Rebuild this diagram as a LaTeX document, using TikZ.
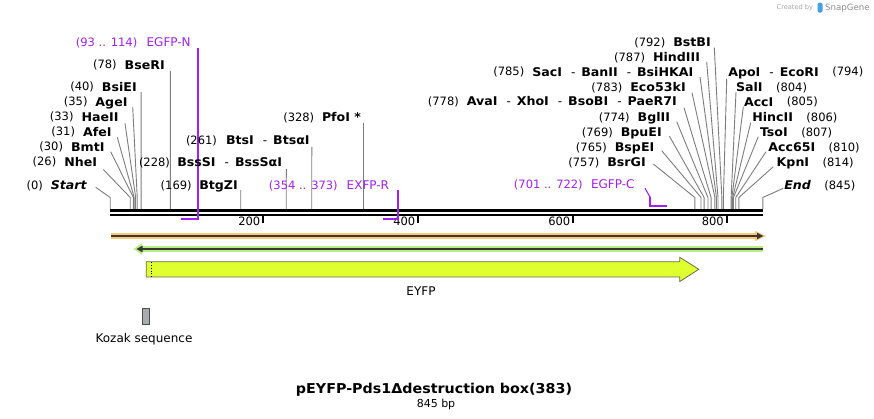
\documentclass[tikz,border=0pt]{standalone}
\usepackage{fontspec}
\setmainfont{DejaVu Sans}[BoldFeatures={FakeStretch=1.05},BoldItalicFeatures={FakeStretch=1.05}]
\usetikzlibrary{arrows.meta,positioning}
\definecolor{prm}{RGB}{160,32,240}
\definecolor{cutg}{RGB}{125,125,125}
\definecolor{orgL}{RGB}{252,200,118}
\definecolor{grnL}{RGB}{182,240,128}
\definecolor{core}{RGB}{55,55,55}
\definecolor{yfp}{RGB}{224,255,46}
\definecolor{yfpb}{RGB}{105,105,85}
\definecolor{koz}{RGB}{168,171,178}
\definecolor{sgblue}{RGB}{70,160,225}
\newcommand{\dsh}{\hspace{9pt}{\mdseries-}\hspace{6pt}}
\begin{document}
\begin{tikzpicture}[x=1pt,y=-1pt,
  base/.style={inner sep=0pt,outer sep=0pt,text height=8.7pt,text depth=0pt},
  txt/.style={base,font=\fontsize{12}{14}\selectfont},
  num/.style={base,font=\fontsize{11.5}{14}\selectfont,text height=8.4pt},
  nm/.style={base,font=\fontsize{12}{14}\selectfont\bfseries},
  nmi/.style={base,font=\fontsize{12}{14}\selectfont\bfseries\itshape},
  pnum/.style={num,text=prm},
  pnm/.style={txt,text=prm},
  tl/.style={base,font=\fontsize{11.5}{13}\selectfont,text height=8.4pt},
  cut/.style={draw=cutg,line width=0.9pt},
  prim/.style={draw=prm,line width=2pt},
  primthin/.style={draw=prm,line width=1.1pt},
  tick/.style={draw=black,line width=1.8pt},
  lnum/.style={num,left=8pt of #1},
  rnum/.style={num,right=13.5pt of #1}]
\useasboundingbox (0,0) rectangle (874,419);
\fill[white] (0,0) rectangle (874,419);

% watermark
\node[base,font=\fontsize{6.6}{8}\selectfont,text=black!35,anchor=west,text height=4.8pt] (wm1) at (776.7,7.3) {Created by};
\fill[sgblue,rounded corners=1.5pt] (817.5,2.7) rectangle (822.5,12.7);
\node[base,font=\fontsize{8.6}{10}\selectfont,text=black!45,anchor=west,text height=6.3pt] (wm2) at (825.2,7.3) {SnapGene};

% cut-site connectors
\foreach \n/\sx/\sy/\p in {
  start/95.7/187.3/0, nhe/103.3/169.5/26, bmt/110.7/151.7/30, afe/117.3/137.3/31,
  hae/125/123.3/33, age/132.7/107/35, bsi/141.1/92/40, bse/170.4/71/78,
  btg/240.7/190/169, bss/286.3/169/228, bts/311.8/147/261, pfo/363.5/123/328,
  bsr/653.3/164/757, bsp/661.7/150.7/765, bpu/669.3/136/769, bgl/676.7/121.7/774,
  ava/684/107.7/778, ecof/692/92.7/783, sac/700/77/785, hind/706.7/62/787,
  bstb/714.3/47.7/792, apo/726.7/79/794, sal/736/92/804, acc/743.3/106.7/805,
  hinc/750.7/122.7/806, tso/758.3/136.7/807, accs/766/151.7/810, kpn/773.3/166.7/814,
  endc/783.3/188.3/845}{
  \coordinate (\n-s) at (\sx,\sy);
  \coordinate (\n-k) at ({110.2+0.7723*\p},197.5);
  \coordinate (\n-b) at ({110.2+0.7723*\p},208.9);
  \draw[cut] (\n-s) -- (\n-k) -- (\n-b);
}

% sequence line
\coordinate (sq0) at (110.2,210.5);
\coordinate (sq1) at (763.3,210.5);
\coordinate (sr0) at (110.2,215);
\coordinate (sr1) at (763.3,215);
\draw[line width=2.7pt] (sq0) -- (sq1);
\draw[line width=2.3pt] (sr0) -- (sr1);

% ticks
\foreach \t/\x in {200/263.3,400/418.3,600/573.3,800/726.7}{
  \coordinate (t\t-a) at (\x,216.3);
  \coordinate (t\t-b) at (\x,223.3);
  \draw[tick] (t\t-a) -- (t\t-b);
  \node[tl,anchor=east] (tl\t) at (\x-3,221.7) {\t};
}

% primers
\coordinate (pn-t) at (198.3,48);
\coordinate (pn-c) at (198.3,219.3);
\coordinate (pn-e) at (181,219.3);
\draw[prim] (pn-t) -- (pn-c) -- (pn-e);
\coordinate (pr-t) at (398.3,190);
\coordinate (pr-c) at (398.3,219.3);
\coordinate (pr-e) at (383.3,219.3);
\draw[prim] (pr-t) -- (pr-c) -- (pr-e);
\coordinate (pc-s) at (645,188.3);
\coordinate (pc-k) at (650.3,197.5);
\coordinate (pc-c) at (650.3,205.8);
\coordinate (pc-e) at (666.7,205.8);
\draw[primthin] (pc-s) -- (pc-k);
\draw[prim] (pc-k) -- (pc-c) -- (pc-e);

% left cluster labels
\node[nmi,anchor=east] (l-start) at (86.7,185) {Start};
\node[lnum=l-start] (n-start) {(0)};
\node[nm,anchor=east] (l-nhe) at (97,161.7) {NheI};
\node[lnum=l-nhe] (n-nhe) {(26)};
\node[nm,anchor=east] (l-bmt) at (104.5,146.7) {BmtI};
\node[lnum=l-bmt] (n-bmt) {(30)};
\node[nm,anchor=east] (l-afe) at (111.5,131.7) {AfeI};
\node[lnum=l-afe] (n-afe) {(31)};
\node[nm,anchor=east] (l-hae) at (118.5,116.7) {HaeII};
\node[lnum=l-hae] (n-hae) {(33)};
\node[nm,anchor=east] (l-age) at (127.5,101.7) {AgeI};
\node[lnum=l-age] (n-age) {(35)};
\node[nm,anchor=east] (l-bsi) at (136.7,86.7) {BsiEI};
\node[lnum=l-bsi] (n-bsi) {(40)};
\node[nm,anchor=east] (l-bse) at (164.7,64.7) {BseRI};
\node[lnum=l-bse] (n-bse) {(78)};
\node[pnum,anchor=east] (n-pn) at (137.3,42.3) {(93 .. 114)};
\node[pnm,anchor=east] (l-pn) at (190.7,42.3) {EGFP-N};

% middle labels
\node[num,anchor=west] (n-btg) at (160.7,185) {(169)};
\node[nm,anchor=west] (l-btg) at (199.3,185) {BtgZI};
\node[num,anchor=west] (n-bss) at (139,162.3) {(228)};
\node[nm,anchor=west] (l-bss) at (177.3,162.3) {BssSI\dsh BssSαI};
\node[num,anchor=west] (n-bts) at (186,140) {(261)};
\node[nm,anchor=west] (l-bts) at (226,140) {BtsI\dsh BtsαI};
\node[num,anchor=west] (n-pfo) at (283.3,117.3) {(328)};
\node[nm,anchor=west] (l-pfo) at (322,117.3) {PfoI *};
\node[pnum,anchor=east] (n-pr) at (337.7,185) {(354 .. 373)};
\node[pnm,anchor=west] (l-pr) at (346.7,185) {EXFP-R};
\node[pnum,anchor=east] (n-pc) at (582.7,184.3) {(701 .. 722)};
\node[pnm,anchor=west] (l-pc) at (591,184.3) {EGFP-C};

% right cluster labels (left of lines)
\node[nm,anchor=east] (l-bstb) at (710.7,42.3) {BstBI};
\node[lnum=l-bstb] (n-bstb) {(792)};
\node[nm,anchor=east] (l-hind) at (700,57) {HindIII};
\node[lnum=l-hind] (n-hind) {(787)};
\node[nm,anchor=east] (l-sac) at (693.3,71.7) {SacI\dsh BanII\dsh BsiHKAI};
\node[lnum=l-sac] (n-sac) {(785)};
\node[nm,anchor=east] (l-ecof) at (685.7,87) {Eco53kI};
\node[lnum=l-ecof] (n-ecof) {(783)};
\node[nm,anchor=east] (l-ava) at (676.7,101.3) {AvaI\dsh XhoI\dsh BsoBI\dsh PaeR7I};
\node[lnum=l-ava] (n-ava) {(778)};
\node[nm,anchor=east] (l-bgl) at (670,117) {BglII};
\node[lnum=l-bgl] (n-bgl) {(774)};
\node[nm,anchor=east] (l-bpu) at (661.7,132) {BpuEI};
\node[lnum=l-bpu] (n-bpu) {(769)};
\node[nm,anchor=east] (l-bsp) at (654.3,147) {BspEI};
\node[lnum=l-bsp] (n-bsp) {(765)};
\node[nm,anchor=east] (l-bsr) at (645.7,162.3) {BsrGI};
\node[lnum=l-bsr] (n-bsr) {(757)};

% right side labels
\node[nm,anchor=west] (l-apo) at (728.3,71.7) {ApoI\dsh EcoRI};
\node[rnum=l-apo] (n-apo) {(794)};
\node[nm,anchor=west] (l-sal) at (736,87) {SalI};
\node[rnum=l-sal] (n-sal) {(804)};
\node[nm,anchor=west] (l-acc) at (744,101.7) {AccI};
\node[rnum=l-acc] (n-acc) {(805)};
\node[nm,anchor=west] (l-hinc) at (752.3,117) {HincII};
\node[rnum=l-hinc] (n-hinc) {(806)};
\node[nm,anchor=west] (l-tso) at (760,132) {TsoI};
\node[rnum=l-tso] (n-tso) {(807)};
\node[nm,anchor=west] (l-accs) at (768.3,147) {Acc65I};
\node[rnum=l-accs] (n-accs) {(810)};
\node[nm,anchor=west] (l-kpn) at (776.7,162) {KpnI};
\node[rnum=l-kpn] (n-kpn) {(814)};
\node[nmi,anchor=west] (l-end) at (784.3,185) {End};
\node[rnum=l-end] (n-end) {(845)};

% orange feature
\fill[orgL] (111,233.3) rectangle (757,238.7);
\fill[orgL] (755,230.8) -- (765.8,236) -- (755,241.2) -- cycle;
\draw[line width=2pt,draw=core] (111,236) -- (758,236);
\fill[core] (757,232.7) -- (763.3,236) -- (757,239.3) -- cycle;

% green feature
\fill[grnL] (138,246.2) rectangle (763.3,251.8);
\fill[grnL] (142,243.3) -- (133.5,249) -- (142,254.7) -- cycle;
\draw[line width=2.2pt,draw=core] (141,249) -- (763.3,249);
\fill[core] (142.5,245.6) -- (136.5,249) -- (142.5,252.4) -- cycle;

% EYFP
\filldraw[fill=yfp,draw=yfpb,line width=0.8pt]
  (146.2,261.7) -- (679.8,261.7) -- (679.8,257.3) -- (698.8,269.3)
  -- (679.8,281.5) -- (679.8,276.9) -- (146.2,276.9) -- cycle;
\draw[black,dotted,line width=0.8pt] (151.4,262.2) -- (151.4,276.4);
\node[txt] (eyfp) at (421,290.7) {EYFP};

% Kozak
\filldraw[fill=koz,draw=black!70,line width=0.8pt] (142.7,308.3) rectangle (149.4,324);
\node[txt] (kozak) at (144,338.3) {Kozak sequence};

% title
\node[base,font=\fontsize{13.6}{16}\selectfont\bfseries,text height=9.9pt] (title) at (434,388.3) {pEYFP-Pds1Δdestruction box(383)};
\node[base,font=\fontsize{11}{13}\selectfont,text height=8pt] (len) at (436,403.3) {845 bp};
\end{tikzpicture}
\end{document}
